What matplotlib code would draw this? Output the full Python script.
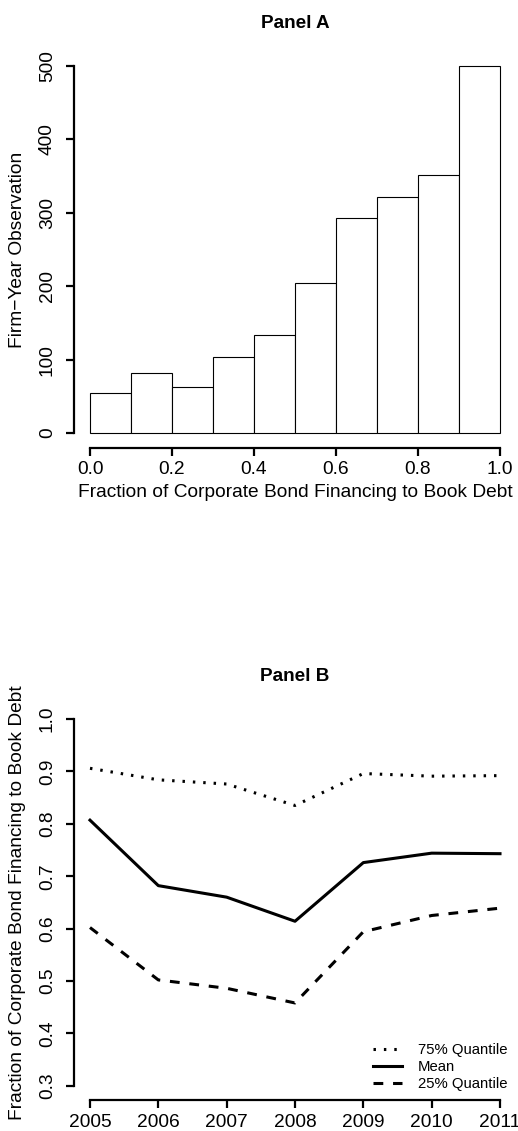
import matplotlib
matplotlib.use("Agg")
import matplotlib.pyplot as plt
import numpy as np

plt.rcParams['font.family'] = ['Liberation Sans', 'DejaVu Sans']

# Panel A: histogram of bond share
bin_edges = [0.0, 0.1, 0.2, 0.3, 0.4, 0.5, 0.6, 0.7, 0.8, 0.9]
bin_counts = [54, 82, 63, 103, 134, 205, 293, 321, 351, 500]
hist_xticks = [0.0, 0.2, 0.4, 0.6, 0.8, 1.0]
hist_yticks = [0, 100, 200, 300, 400, 500]

# Panel B: yearly statistics
years = [2005, 2006, 2007, 2008, 2009, 2010, 2011]
q75 = [0.906, 0.884, 0.876, 0.835, 0.896, 0.891, 0.892]
mean = [0.807, 0.682, 0.660, 0.614, 0.726, 0.744, 0.743]
q25 = [0.602, 0.502, 0.486, 0.458, 0.594, 0.625, 0.639]
line_yticks = [0.3, 0.4, 0.5, 0.6, 0.7, 0.8, 0.9, 1.0]

W, H = 518, 1131
fig = plt.figure(figsize=(W / 100, H / 100), dpi=100)

FS = 13.8


def r_axes(ax, xt, yt, xfmt, yfmt):
    # R base graphics look: axis lines only span the ticks
    for s in ["top", "right"]:
        ax.spines[s].set_visible(False)
    ax.spines["left"].set_bounds(yt[0], yt[-1])
    ax.spines["bottom"].set_bounds(xt[0], xt[-1])
    for s in ["left", "bottom"]:
        ax.spines[s].set_linewidth(1.6)
    ax.set_xticks(xt)
    ax.set_yticks(yt)
    ax.set_xticklabels([xfmt(v) for v in xt])
    ax.set_yticklabels([yfmt(v) for v in yt], rotation=90, va="center")
    ax.tick_params(axis="both", direction="out", length=5.8, width=1.6, labelsize=FS)
    ax.tick_params(axis="x", pad=4.0)
    ax.tick_params(axis="y", pad=7.0)


# ---- Panel A
axA = fig.add_axes([73.6 / W, 1 - 447.7 / H, 442.8 / W, 396.4 / H])
axA.bar(bin_edges, bin_counts, width=0.1, align="edge", color="white",
        edgecolor="black", linewidth=0.8)
axA.set_xlim(-0.04, 1.04)
axA.set_ylim(-20, 520)
r_axes(axA, hist_xticks, hist_yticks, lambda v: f"{v:.1f}", lambda v: f"{v:d}")
axA.set_title("Panel A", fontsize=13.6, fontweight="bold", pad=17)
axA.set_xlabel("Fraction of Corporate Bond Financing to Book Debt", fontsize=FS)
axA.set_ylabel("Firm\u2212Year Observation", fontsize=FS)
axA.xaxis.set_label_coords(0.5, -0.092)
axA.yaxis.set_label_coords(-0.108, 0.5)

# ---- Panel B
axB = fig.add_axes([73.6 / W, 1 - 1100.4 / H, 442.8 / W, 396.0 / H])
axB.plot(years, q75, color="black", lw=2.2, linestyle=(0, (0.8, 2.6)),
         dash_capstyle="butt", label="75% Quantile")
axB.plot(years, mean, color="black", lw=2.2, label="Mean")
axB.plot(years, q25, color="black", lw=2.2, linestyle=(0, (3.2, 3.2)),
         label="25% Quantile")
axB.set_xlim(2005 - 0.24, 2011 + 0.24)
axB.set_ylim(0.3 - 0.028, 1.0 + 0.028)
r_axes(axB, years, line_yticks, lambda v: str(v), lambda v: f"{v:.1f}")
axB.set_title("Panel B", fontsize=13.6, fontweight="bold", pad=17)
axB.set_ylabel("Fraction of Corporate Bond Financing to Book Debt", fontsize=FS)
axB.yaxis.set_label_coords(-0.108, 0.5)
axB.legend(loc="lower right", frameon=False, fontsize=10.7, handlelength=1.9,
           handletextpad=1.1, labelspacing=0.22, borderaxespad=0.2,
           bbox_to_anchor=(1.0, 0.0))

fig.savefig("out.png", dpi=100)
